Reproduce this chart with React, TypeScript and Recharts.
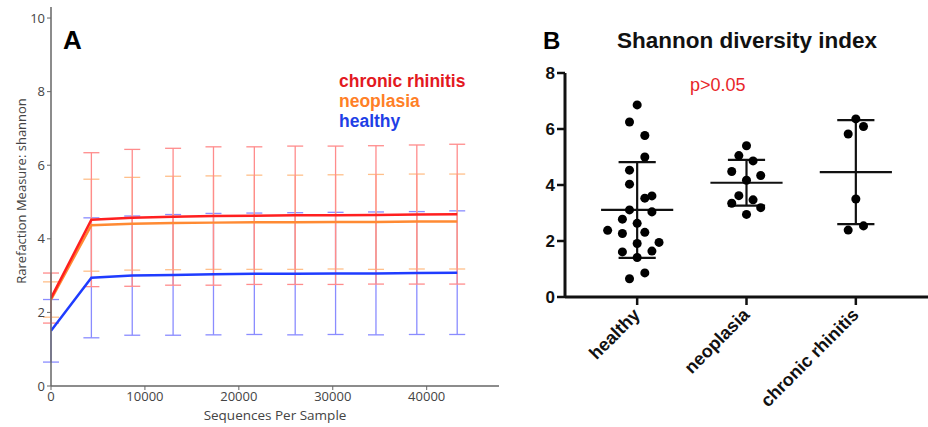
import React from 'react'
import { LineChart, Line, XAxis, YAxis, ErrorBar, ScatterChart, Scatter, ReferenceLine } from 'recharts'

// panel A: rarefaction curves (shannon)
const seqDepth = [0, 4300, 8650, 13000, 17300, 21650, 26000, 30300, 34600, 38950, 43250]
const chronicMean = [2.39, 4.52, 4.57, 4.6, 4.62, 4.63, 4.64, 4.64, 4.65, 4.66, 4.67]
const neoplasiaMean = [2.35, 4.37, 4.41, 4.43, 4.44, 4.45, 4.45, 4.46, 4.46, 4.47, 4.47]
const healthyMean = [1.5, 2.94, 3.0, 3.02, 3.04, 3.05, 3.05, 3.06, 3.06, 3.07, 3.08]
const chronicSd = [0.68, 1.82, 1.86, 1.86, 1.88, 1.87, 1.88, 1.88, 1.88, 1.89, 1.9]
const neoplasiaSd = [0.48, 1.25, 1.26, 1.27, 1.27, 1.28, 1.28, 1.28, 1.29, 1.29, 1.29]
const healthySd = [0.85, 1.63, 1.62, 1.64, 1.65, 1.65, 1.66, 1.66, 1.67, 1.67, 1.68]
const depthTicks = [0, 10000, 20000, 30000, 40000]
const measureTicks = [0, 2, 4, 6, 8, 10]

// panel B: shannon index per group
const groups = ['healthy', 'neoplasia', 'chronic rhinitis']
const healthyVals = [6.86, 6.25, 5.77, 5.0, 4.53, 4.03, 3.61, 3.53, 3.11, 3.04, 2.78, 2.63, 2.38, 2.31, 2.27, 1.95, 1.91, 1.64, 1.61, 1.41, 0.86, 0.65]
const healthyJitter = [0, -0.07, 0.07, 0.07, -0.07, -0.07, 0.135, 0.07, -0.07, 0.135, -0.135, 0, -0.27, 0.07, -0.135, 0.2, 0, 0.135, -0.135, 0, 0.07, -0.07]
const neoplasiaVals = [5.4, 5.05, 4.86, 4.48, 4.34, 4.17, 3.62, 3.47, 3.35, 3.19, 2.95]
const neoplasiaJitter = [0, -0.07, 0.06, -0.135, 0.13, 0, -0.07, 0.06, -0.135, 0.13, 0]
const chronicVals = [6.36, 6.09, 5.82, 3.5, 2.54, 2.39]
const chronicJitter = [0, 0.07, -0.07, 0, 0.07, -0.07]
const groupMean = [3.11, 4.08, 4.46]
const groupSd = [1.71, 0.82, 1.86]
const shannonTicks = [0, 2, 4, 6, 8]

const rarefaction = seqDepth.map((d, i) => ({
  depth: d,
  chronic: chronicMean[i],
  neoplasia: neoplasiaMean[i],
  healthy: healthyMean[i],
  chronicSd: chronicSd[i],
  neoplasiaSd: neoplasiaSd[i],
  healthySd: healthySd[i],
}))

const toPoints = (vals: number[], jitter: number[], pos: number) =>
  vals.map((v, i) => ({ x: pos + jitter[i], y: v }))

const healthyPts = toPoints(healthyVals, healthyJitter, 1)
const neoplasiaPts = toPoints(neoplasiaVals, neoplasiaJitter, 2)
const chronicPts = toPoints(chronicVals, chronicJitter, 3)

const RED = '#ff1f1f'
const ORANGE = '#ff8a33'
const BLUE = '#1f3cff'
const sans = 'Open Sans'
const arial = 'Liberation Sans'

const GroupTick = (props: any) => {
  const { x, y, payload } = props
  const ax = x + 4
  const ay = y + 9
  return (
    <text
      x={ax}
      y={ay}
      textAnchor="end"
      transform={`rotate(-45, ${ax}, ${ay})`}
      fontFamily={arial}
      fontWeight="bold"
      fontSize={18}
      fill="#111"
    >
      {groups[payload.value - 1]}
    </text>
  )
}

function RarefactionPanel() {
  const tick = { fill: '#444', fontSize: 13, fontFamily: sans }
  const axisLine = { stroke: '#666', strokeWidth: 1.5 }
  return (
    <LineChart width={510} height={427} data={rarefaction} margin={{ top: 7, right: 11, bottom: 0, left: 0 }}>
      <XAxis
        dataKey="depth"
        type="number"
        domain={[0, 47700]}
        ticks={depthTicks}
        height={41}
        tick={tick}
        tickSize={4}
        tickLine={{ stroke: '#666' }}
        axisLine={axisLine}
        allowDataOverflow
      />
      <YAxis
        yAxisId="l"
        type="number"
        domain={[0, 10.3]}
        ticks={measureTicks}
        width={51}
        tick={tick}
        tickSize={4}
        tickLine={{ stroke: '#666' }}
        axisLine={axisLine}
        allowDataOverflow
      />
      <YAxis yAxisId="r" orientation="right" type="number" domain={[0, 10.3]} width={0} tick={false} axisLine={axisLine} />

      {/* error bars first so the mean lines sit on top */}
      <Line yAxisId="l" dataKey="healthy" stroke="none" dot={false} isAnimationActive={false}>
        <ErrorBar dataKey="healthySd" width={8} stroke="#8a8cff" strokeWidth={1.3} direction="y" isAnimationActive={false} />
      </Line>
      <Line yAxisId="l" dataKey="neoplasia" stroke="none" dot={false} isAnimationActive={false}>
        <ErrorBar dataKey="neoplasiaSd" width={8} stroke="#ffbf8a" strokeWidth={1.3} direction="y" isAnimationActive={false} />
      </Line>
      <Line yAxisId="l" dataKey="chronic" stroke="none" dot={false} isAnimationActive={false}>
        <ErrorBar dataKey="chronicSd" width={8} stroke="#ff8c8c" strokeWidth={1.3} direction="y" isAnimationActive={false} />
      </Line>

      <Line yAxisId="l" type="linear" dataKey="healthy" stroke={BLUE} strokeWidth={2.5} dot={false} isAnimationActive={false} />
      <Line yAxisId="l" type="linear" dataKey="neoplasia" stroke={ORANGE} strokeWidth={2.5} dot={false} isAnimationActive={false} />
      <Line yAxisId="l" type="linear" dataKey="chronic" stroke={RED} strokeWidth={2.5} dot={false} isAnimationActive={false} />
    </LineChart>
  )
}

function ShannonPanel() {
  const tick = { fill: '#111', fontSize: 17, fontFamily: arial, fontWeight: 'bold' }
  const axisLine = { stroke: '#111', strokeWidth: 3 }
  const meanHalf = 0.33
  const capHalf = 0.17
  return (
    <ScatterChart width={428} height={427} margin={{ top: 73, right: 0, bottom: 0, left: 0 }}>
      <XAxis
        type="number"
        dataKey="x"
        domain={[0.34, 3.66]}
        ticks={[1, 2, 3]}
        height={130}
        tick={<GroupTick />}
        tickSize={8}
        tickLine={{ stroke: '#111', strokeWidth: 2.5 }}
        axisLine={axisLine}
        allowDataOverflow
      />
      <YAxis
        type="number"
        dataKey="y"
        domain={[0, 8]}
        ticks={shannonTicks}
        width={65}
        tick={tick}
        tickSize={8}
        tickLine={{ stroke: '#111', strokeWidth: 2.5 }}
        axisLine={axisLine}
        allowDataOverflow
      />
      {groupMean.map((m, i) => {
        const c = i + 1
        const s = groupSd[i]
        return (
          <React.Fragment key={groups[i]}>
            <ReferenceLine segment={[{ x: c - meanHalf, y: m }, { x: c + meanHalf, y: m }]} stroke="#111" strokeWidth={2.2} />
            <ReferenceLine segment={[{ x: c - capHalf, y: m + s }, { x: c + capHalf, y: m + s }]} stroke="#111" strokeWidth={2.2} />
            <ReferenceLine segment={[{ x: c - capHalf, y: m - s }, { x: c + capHalf, y: m - s }]} stroke="#111" strokeWidth={2.2} />
            <ReferenceLine segment={[{ x: c, y: m - s }, { x: c, y: m + s }]} stroke="#111" strokeWidth={2.2} />
          </React.Fragment>
        )
      })}
      <Scatter data={healthyPts} fill="#000" isAnimationActive={false} />
      <Scatter data={neoplasiaPts} fill="#000" isAnimationActive={false} />
      <Scatter data={chronicPts} fill="#000" isAnimationActive={false} />
    </ScatterChart>
  )
}

export default function App() {
  return (
    <div style={{ position: 'absolute', left: 0, top: 0, width: 928, height: 427, background: '#fff', overflow: 'hidden' }}>
      <div style={{ position: 'absolute', left: 0, top: 0 }}>
        <RarefactionPanel />
      </div>
      <div style={{ position: 'absolute', left: 500, top: 0 }}>
        <ShannonPanel />
      </div>
      <svg width={928} height={427} style={{ position: 'absolute', left: 0, top: 0, pointerEvents: 'none' }}>
        <text x={63} y={49} fontFamily={arial} fontWeight="bold" fontSize={26} fill="#000">A</text>
        <text x={339} y={87} fontFamily={arial} fontWeight="bold" fontSize={17.5} fill="#e3191f">chronic rhinitis</text>
        <text x={339} y={107} fontFamily={arial} fontWeight="bold" fontSize={17.5} fill="#ff7f27">neoplasia</text>
        <text x={339} y={127} fontFamily={arial} fontWeight="bold" fontSize={17.5} fill="#1f3fe6">healthy</text>
        <text
          x={21}
          y={191}
          textAnchor="middle"
          dominantBaseline="central"
          transform="rotate(-90, 21, 191)"
          fontFamily={sans}
          fontSize={13}
          fill="#444"
        >
          Rarefaction Measure: shannon
        </text>
        <text x={275} y={420} textAnchor="middle" fontFamily={sans} fontSize={13.5} fill="#444">Sequences Per Sample</text>

        <text x={543} y={49} fontFamily={arial} fontWeight="bold" fontSize={24} fill="#000">B</text>
        <text x={747} y={48} textAnchor="middle" fontFamily={arial} fontWeight="bold" fontSize={22.5} fill="#111">Shannon diversity index</text>
        <text x={690} y={91} fontFamily={arial} fontSize={18} fill="#e8262a">p&gt;0.05</text>
      </svg>
    </div>
  )
}
